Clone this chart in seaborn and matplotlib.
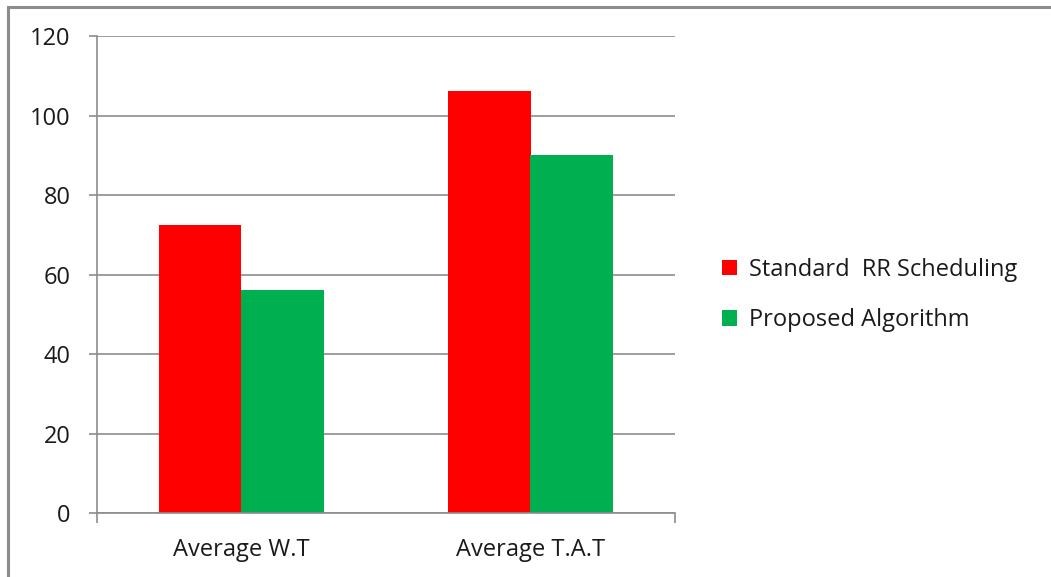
import matplotlib
matplotlib.use("Agg")
import matplotlib.pyplot as plt
from matplotlib.patches import Rectangle, Patch
import seaborn as sns
import pandas as pd

categories = ["Average W.T", "Average T.A.T"]
series = ["Standard  RR Scheduling", "Proposed Algorithm"]
standard_rr = [72.4, 106.2]
proposed = [56.2, 90.0]
y_ticks = [0, 20, 40, 60, 80, 100, 120]
colors = ["#FF0000", "#00B050"]

df = pd.DataFrame({
    "category": categories * 2,
    "series": [series[0]] * 2 + [series[1]] * 2,
    "value": standard_rr + proposed,
})

sns.set_theme(style="white")
plt.rcParams["font.family"] = ["Open Sans", "DejaVu Sans"]

W, H = 1051, 577
fig = plt.figure(figsize=(W / 100, H / 100), dpi=100)
fig.patch.set_facecolor("white")

# outer chart frame
fig.patches.append(Rectangle((8 / W, -0.1), 1.2, (H - 7) / H + 0.1,
                             transform=fig.transFigure, fill=False,
                             edgecolor="#8c8c8c", linewidth=2.2, zorder=0))

ax = fig.add_axes([97 / W, 1 - 513.3 / H, 578 / W, (513.3 - 36) / H])
sns.barplot(data=df, x="category", y="value", hue="series", order=categories,
            hue_order=series, palette=colors, width=0.57, gap=0,
            saturation=1, ax=ax, legend=False, linewidth=0, errorbar=None)

ax.set_xlim(-0.5, 1.5)
ax.set_ylim(0, 120)
ax.set_yticks(y_ticks)
ax.set_xlabel("")
ax.set_ylabel("")

grid_c = "#8c8c8c"
text_c = "#1a1a1a"
fs = 17
ax.yaxis.grid(True, color=grid_c, linewidth=1.2)
ax.set_axisbelow(True)
for s in ["top", "right"]:
    ax.spines[s].set_visible(False)
for s in ["left", "bottom"]:
    ax.spines[s].set_color(grid_c)
    ax.spines[s].set_linewidth(1.2)

ax.tick_params(axis="y", which="major", left=True, length=6, width=1.2,
               color=grid_c, pad=13, labelsize=fs, labelcolor=text_c)
ax.tick_params(axis="x", which="major", bottom=False, length=0, pad=18,
               labelsize=fs, labelcolor=text_c)
ax.set_xticks([-0.5, 1.5], minor=True)
ax.tick_params(axis="x", which="minor", bottom=True, length=7, width=1.2,
               color=grid_c)

handles = [Patch(facecolor=c, edgecolor="none", label=l) for c, l in zip(colors, series)]
fig.legend(handles=handles, loc="center left", bbox_to_anchor=(701 / W, 1 - 295 / H),
           frameon=False, fontsize=fs, handlelength=0.62, handleheight=0.62,
           handletextpad=0.5, labelspacing=1.12, labelcolor=text_c)

fig.savefig("out.png", dpi=100, facecolor="white")
